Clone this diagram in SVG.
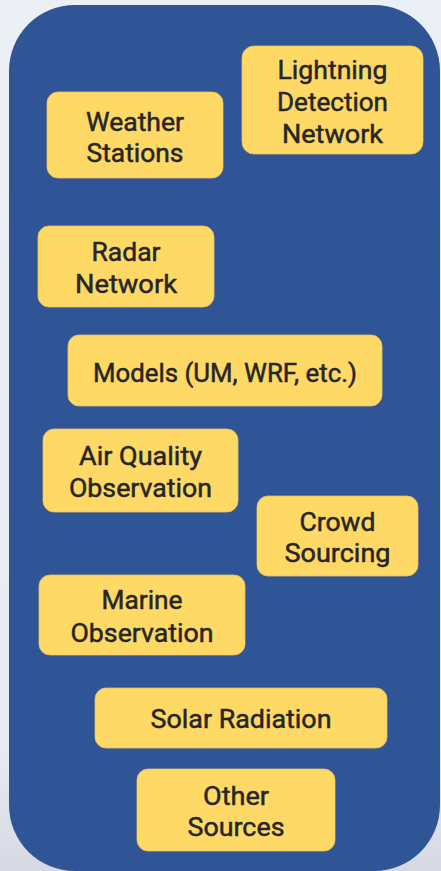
<svg xmlns="http://www.w3.org/2000/svg" width="441" height="871" viewBox="0 0 441 871">
<defs>
<linearGradient id="bg" x1="0" y1="0" x2="0" y2="1">
<stop offset="0" stop-color="#EBF0F5"/>
<stop offset="0.85" stop-color="#E8ECF2"/>
<stop offset="1" stop-color="#D6D9E3"/>
</linearGradient>
<style>
.box{fill:#FFD966;stroke:#E8C25A;stroke-width:0.8}
.t{font-family:Roboto,"Liberation Sans",sans-serif;font-size:26px;font-weight:400;fill:#262626;stroke:#262626;stroke-width:0.5;text-anchor:middle}
</style>
</defs>
<rect x="0" y="0" width="441" height="871" fill="url(#bg)"/>
<rect id="panel" x="9" y="5" width="431" height="866" rx="66" ry="66" fill="#2F5597"/>
<g id="connectors"></g>
<g id="weather-stations">
<rect class="box" x="47" y="92" width="176" height="86" rx="11"/>
<text class="t" x="135" y="131" textLength="98" lengthAdjust="spacingAndGlyphs">Weather</text>
<text class="t" x="135" y="162" textLength="97" lengthAdjust="spacingAndGlyphs">Stations</text>
</g>
<g id="lightning-detection-network">
<rect class="box" x="242" y="46" width="181" height="108" rx="12"/>
<text class="t" x="332.5" y="79" textLength="110" lengthAdjust="spacingAndGlyphs">Lightning</text>
<text class="t" x="332.5" y="111" textLength="111" lengthAdjust="spacingAndGlyphs">Detection</text>
<text class="t" x="332.5" y="143" textLength="101" lengthAdjust="spacingAndGlyphs">Network</text>
</g>
<g id="radar-network">
<rect class="box" x="38" y="226" width="176" height="81" rx="11"/>
<text class="t" x="126" y="261" textLength="69" lengthAdjust="spacingAndGlyphs">Radar</text>
<text class="t" x="126" y="293" textLength="102" lengthAdjust="spacingAndGlyphs">Network</text>
</g>
<g id="models">
<rect class="box" x="68" y="335" width="314" height="71" rx="11"/>
<text class="t" x="225" y="382" textLength="264" lengthAdjust="spacingAndGlyphs">Models (UM, WRF, etc.)</text>
</g>
<g id="air-quality-observation">
<rect class="box" x="43" y="429" width="195" height="83" rx="11"/>
<text class="t" x="140.5" y="465" textLength="123" lengthAdjust="spacingAndGlyphs">Air Quality</text>
<text class="t" x="140.5" y="497" textLength="143" lengthAdjust="spacingAndGlyphs">Observation</text>
</g>
<g id="crowd-sourcing">
<rect class="box" x="257" y="496" width="161" height="80" rx="11"/>
<text class="t" x="337.5" y="531" textLength="76" lengthAdjust="spacingAndGlyphs">Crowd</text>
<text class="t" x="337.5" y="562" textLength="106" lengthAdjust="spacingAndGlyphs">Sourcing</text>
</g>
<g id="marine-observation">
<rect class="box" x="39" y="575" width="206" height="80" rx="11"/>
<text class="t" x="142" y="609" textLength="81" lengthAdjust="spacingAndGlyphs">Marine</text>
<text class="t" x="142" y="642" textLength="143" lengthAdjust="spacingAndGlyphs">Observation</text>
</g>
<g id="solar-radiation">
<rect class="box" x="95" y="688" width="292" height="60" rx="11"/>
<text class="t" x="241" y="728" textLength="181" lengthAdjust="spacingAndGlyphs">Solar Radiation</text>
</g>
<g id="other-sources">
<rect class="box" x="137" y="769" width="198" height="82" rx="11"/>
<text class="t" x="236" y="805" textLength="66" lengthAdjust="spacingAndGlyphs">Other</text>
<text class="t" x="236" y="836" textLength="97" lengthAdjust="spacingAndGlyphs">Sources</text>
</g>
</svg>
